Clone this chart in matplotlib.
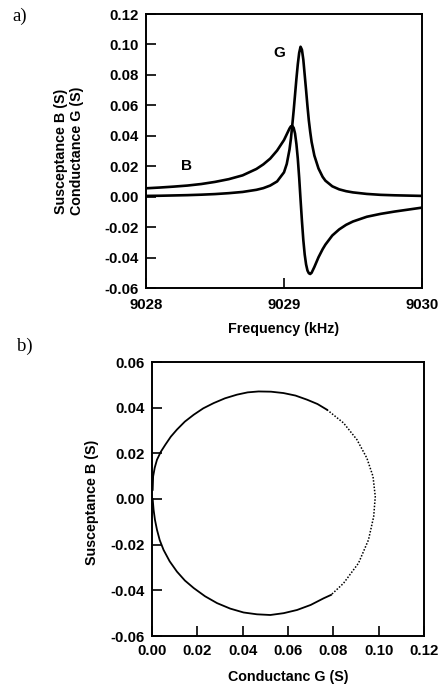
import matplotlib
matplotlib.use("Agg")
import matplotlib.pyplot as plt

plt.rcParams['font.family'] = ['Liberation Sans', 'DejaVu Sans']
plt.rcParams['axes.unicode_minus'] = False

# ---------------- data (a) ----------------
freq_khz = [9028.0, 9028.1, 9028.2, 9028.3, 9028.4, 9028.5, 9028.6, 9028.7, 9028.8,
            9028.85, 9028.9, 9028.95, 9029.0, 9029.02, 9029.04, 9029.05, 9029.06,
            9029.07, 9029.08, 9029.09, 9029.10, 9029.11, 9029.12, 9029.13, 9029.14,
            9029.15, 9029.16, 9029.17, 9029.18, 9029.19, 9029.20, 9029.22, 9029.25,
            9029.28, 9029.30, 9029.35, 9029.40, 9029.45, 9029.50, 9029.60, 9029.70,
            9029.80, 9029.90, 9030.0]
conductance_G = [0.0005, 0.0006, 0.0008, 0.0010, 0.0013, 0.0017, 0.0023, 0.0031, 0.0045,
                 0.0056, 0.0073, 0.0100, 0.0160, 0.0215, 0.0310, 0.0380, 0.0470,
                 0.0565, 0.0670, 0.0775, 0.0870, 0.0945, 0.0985, 0.0965, 0.0900,
                 0.0800, 0.0700, 0.0595, 0.0500, 0.0425, 0.0360, 0.0270, 0.0185,
                 0.0130, 0.0105, 0.0068, 0.0048, 0.0036, 0.0028, 0.0018, 0.0012,
                 0.0009, 0.0007, 0.0005]
susceptance_B = [0.0055, 0.0060, 0.0066, 0.0073, 0.0083, 0.0097, 0.0115, 0.0140, 0.0182,
                 0.0212, 0.0250, 0.0303, 0.0372, 0.0410, 0.0448, 0.0462, 0.0465,
                 0.0452, 0.0415, 0.0345, 0.0250, 0.0125, -0.0020, -0.0160, -0.0285,
                 -0.0380, -0.0445, -0.0485, -0.0503, -0.0508, -0.0500, -0.0462, -0.0398,
                 -0.0345, -0.0315, -0.0255, -0.0215, -0.0185, -0.0163, -0.0132, -0.0113,
                 -0.0098, -0.0085, -0.0072]

# ---------------- data (b) : admittance circle ----------------
circle_G_solid1 = [0.0003, 0.0005, 0.0012, 0.0022, 0.0039, 0.0059, 0.0083, 0.0110,
                   0.0145, 0.0184, 0.0226, 0.0272, 0.0322, 0.0375, 0.0422, 0.0470,
                   0.0525, 0.0580, 0.0633, 0.0684, 0.0730, 0.0772]
circle_B_solid1 = [0.0040, 0.0099, 0.0137, 0.0172, 0.0207, 0.0238, 0.0273, 0.0304,
                   0.0339, 0.0369, 0.0397, 0.0420, 0.0441, 0.0457, 0.0467, 0.0471,
                   0.0470, 0.0464, 0.0453, 0.0435, 0.0416, 0.0391]
circle_G_dotted = [0.0772, 0.0845, 0.0904, 0.0948, 0.0975, 0.0985, 0.0978, 0.0955,
                   0.0911, 0.0845, 0.0790]
circle_B_dotted = [0.0391, 0.0333, 0.0260, 0.0179, 0.0099, 0.0011, -0.0077, -0.0179,
                   -0.0281, -0.0369, -0.0420]
circle_G_solid2 = [0.0790, 0.0757, 0.0700, 0.0640, 0.0581, 0.0522, 0.0463, 0.0404,
                   0.0345, 0.0287, 0.0234, 0.0184, 0.0145, 0.0110, 0.0078, 0.0051,
                   0.0034, 0.0022, 0.0013, 0.0007, 0.0003]
circle_B_solid2 = [-0.0420, -0.0435, -0.0464, -0.0486, -0.0500, -0.0508, -0.0505, -0.0497,
                   -0.0480, -0.0456, -0.0426, -0.0390, -0.0357, -0.0318, -0.0273, -0.0223,
                   -0.0180, -0.0135, -0.0091, -0.0047, 0.0000]

yticks_a = [-0.06, -0.04, -0.02, 0.00, 0.02, 0.04, 0.06, 0.08, 0.10, 0.12]
xticks_a = [9028, 9029, 9030]
yticks_b = [-0.06, -0.04, -0.02, 0.00, 0.02, 0.04, 0.06]
xticks_b = [0.00, 0.02, 0.04, 0.06, 0.08, 0.10, 0.12]

W, H = 446, 691
fig = plt.figure(figsize=(W / 100, H / 100), dpi=100)

def box(l, t, r, b):
    return [l / W, 1 - b / H, (r - l) / W, (b - t) / H]

TS = 10.8
LS = 10.3

def style(ax):
    for s in ax.spines.values():
        s.set_linewidth(1.4)
    ax.tick_params(direction='in', length=7, width=1.2, top=False, right=False,
                   labelsize=TS, pad=5)
    for lab in ax.get_xticklabels() + ax.get_yticklabels():
        lab.set_fontweight('bold')

# ---- panel a ----
ax1 = fig.add_axes(box(146, 14, 422, 288))
ax1.plot(freq_khz, conductance_G, color='black', lw=1.9)
ax1.plot(freq_khz, susceptance_B, color='black', lw=1.9)
ax1.set_xlim(9028, 9030)
ax1.set_ylim(-0.06, 0.12)
ax1.set_xticks(xticks_a)
ax1.set_xticklabels([str(v) for v in xticks_a])
ax1.set_yticks(yticks_a)
ax1.set_yticklabels([f"{v:.2f}" for v in yticks_a])
style(ax1)
ax1.tick_params(axis='x', pad=7)
ax1.text(9028.964, 0.0944, 'G', fontsize=11, fontweight='bold', ha='center', va='center')
ax1.text(9028.297, 0.0202, 'B', fontsize=11, fontweight='bold', ha='center', va='center')

fig.text(69 / W, 1 - 151 / H, 'Susceptance B (S)\nConductance G (S)', rotation=90,
         ha='center', va='center', fontsize=LS, fontweight='bold', linespacing=1.2)
fig.text(284 / W, 1 - 329 / H, 'Frequency (kHz)', ha='center', va='center',
         fontsize=LS, fontweight='bold')
fig.text(12 / W, 1 - 16 / H, 'a)', ha='left', va='center', fontsize=13.5,
         family=['Liberation Serif', 'DejaVu Serif'])

# ---- panel b ----
ax2 = fig.add_axes(box(152, 362, 424, 636))
ax2.plot(circle_G_solid1, circle_B_solid1, color='black', lw=1.3)
ax2.plot(circle_G_dotted, circle_B_dotted, color='black', lw=1.1, linestyle=(0, (1, 1.1)))
ax2.plot(circle_G_solid2, circle_B_solid2, color='black', lw=1.3)
ax2.set_xlim(0, 0.12)
ax2.set_ylim(-0.06, 0.06)
ax2.set_xticks(xticks_b)
ax2.set_xticklabels([f"{v:.2f}" for v in xticks_b])
ax2.set_yticks(yticks_b)
ax2.set_yticklabels([f"{v:.2f}" for v in yticks_b])
style(ax2)
ax2.tick_params(axis='x', pad=6)

fig.text(92 / W, 1 - 502 / H, 'Susceptance B (S)', rotation=90, ha='center', va='center',
         fontsize=LS, fontweight='bold')
fig.text(288 / W, 1 - 677 / H, 'Conductanc G (S)', ha='center', va='center',
         fontsize=LS, fontweight='bold')
fig.text(17 / W, 1 - 346 / H, 'b)', ha='left', va='center', fontsize=13.5,
         family=['Liberation Serif', 'DejaVu Serif'])

fig.savefig('out.png', dpi=100)
